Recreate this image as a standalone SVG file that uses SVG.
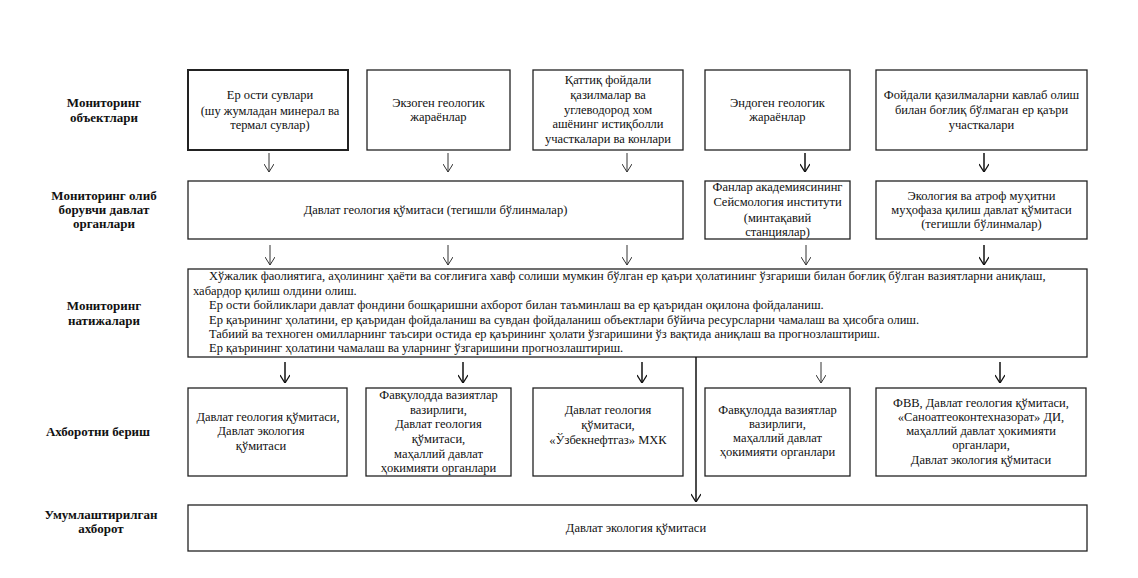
<svg xmlns="http://www.w3.org/2000/svg" width="1138" height="578" viewBox="0 0 1138 578" font-family="'Liberation Serif', 'Times New Roman', serif">
<style>
  text { font-family: 'Liberation Serif', 'Times New Roman', serif; font-size: 12.5px; fill: #111; }
  .lbl { font-weight: bold; text-anchor: middle; font-size: 13px; }
  .c { text-anchor: middle; }
  .box { fill: #fff; stroke: #222; stroke-width: 1.3; }
  .thick { stroke-width: 2; }
  .arr { stroke: #333; stroke-width: 1; fill: none; }
  .arr2 { stroke: #111; stroke-width: 1.5; fill: none; }
</style>
<defs>
  <marker id="ah" viewBox="0 0 10 10" refX="10" refY="5" markerWidth="10" markerHeight="10" markerUnits="userSpaceOnUse" orient="auto">
    <path d="M2,0 L10,5 L2,10" fill="none" stroke="#333" stroke-width="1"/>
  </marker>
  <marker id="ah2" viewBox="0 0 10 10" refX="10" refY="5" markerWidth="10" markerHeight="10" markerUnits="userSpaceOnUse" orient="auto">
    <path d="M2,0 L10,5 L2,10" fill="none" stroke="#111" stroke-width="1.3"/>
  </marker>
</defs>
<rect width="1138" height="578" fill="#fff"/>

<g id="labels">
  <text class="lbl" x="104" y="107">Мониторинг</text>
  <text class="lbl" x="104" y="122">объектлари</text>
  <text class="lbl" x="104" y="200">Мониторинг олиб</text>
  <text class="lbl" x="104" y="214">борувчи давлат</text>
  <text class="lbl" x="104" y="228">органлари</text>
  <text class="lbl" x="104" y="310">Мониторинг</text>
  <text class="lbl" x="104" y="325">натижалари</text>
  <text class="lbl" x="98" y="436">Ахборотни бериш</text>
  <text class="lbl" x="101" y="519">Умумлаштирилган</text>
  <text class="lbl" x="101" y="533">ахборот</text>
</g>

<g id="obj1">
  <rect class="box thick" x="188" y="70" width="160" height="80"/>
  <text class="c" x="270" y="99">Ер ости сувлари</text>
  <text class="c" x="270" y="115">(шу жумладан минерал ва</text>
  <text class="c" x="270" y="129">термал сувлар)</text>
</g>
<g id="obj2">
  <rect class="box" x="367" y="70" width="143" height="80"/>
  <text class="c" x="438.5" y="107">Экзоген геологик</text>
  <text class="c" x="438.5" y="121">жараёнлар</text>
</g>
<g id="obj3">
  <rect class="box" x="533" y="70" width="150" height="80"/>
  <text class="c" x="608" y="84">Қаттиқ фойдали</text>
  <text class="c" x="608" y="99">қазилмалар ва</text>
  <text class="c" x="608" y="114">углеводород хом</text>
  <text class="c" x="608" y="128">ашёнинг истиқболли</text>
  <text class="c" x="608" y="143">участкалари ва конлари</text>
</g>
<g id="obj4">
  <rect class="box" x="705" y="70" width="145" height="80"/>
  <text class="c" x="777.5" y="107">Эндоген геологик</text>
  <text class="c" x="777.5" y="121">жараёнлар</text>
</g>
<g id="obj5">
  <rect class="box" x="876" y="70" width="211" height="80"/>
  <text class="c" x="981.5" y="99">Фойдали қазилмаларни кавлаб олиш</text>
  <text class="c" x="981.5" y="114">билан боғлиқ бўлмаган ер қаъри</text>
  <text class="c" x="981.5" y="129">участкалари</text>
</g>

<g id="org1">
  <rect class="box" x="188" y="181" width="495" height="58"/>
  <text class="c" x="435.5" y="214">Давлат геология қўмитаси (тегишли бўлинмалар)</text>
</g>
<g id="org2">
  <rect class="box" x="705" y="181" width="145" height="58"/>
  <text class="c" x="777.5" y="191">Фанлар академиясининг</text>
  <text class="c" x="777.5" y="206">Сейсмология институти</text>
  <text class="c" x="777.5" y="222">(минтақавий</text>
  <text class="c" x="777.5" y="236">станциялар)</text>
</g>
<g id="org3">
  <rect class="box" x="876" y="181" width="211" height="58"/>
  <text class="c" x="981.5" y="200">Экология ва атроф муҳитни</text>
  <text class="c" x="981.5" y="214">муҳофаза қилиш давлат қўмитаси</text>
  <text class="c" x="981.5" y="228">(тегишли бўлинмалар)</text>
</g>

<g id="results">
  <rect class="box" x="188" y="269" width="899" height="88"/>
  <text x="209" y="280">Хўжалик фаолиятига, аҳолининг ҳаёти ва соғлиғига хавф солиши мумкин бўлган ер қаъри ҳолатининг ўзгариши билан боғлиқ бўлган вазиятларни аниқлаш,</text>
  <text x="193" y="294.5">хабардор қилиш олдини олиш.</text>
  <text x="209" y="309">Ер ости бойликлари давлат фондини бошқаришни ахборот билан таъминлаш ва ер қаъридан оқилона фойдаланиш.</text>
  <text x="209" y="323.5">Ер қаърининг ҳолатини, ер қаъридан фойдаланиш ва сувдан фойдаланиш объектлари бўйича ресурсларни чамалаш ва ҳисобга олиш.</text>
  <text x="209" y="338">Табиий ва техноген омилларнинг таъсири остида ер қаърининг ҳолати ўзгаришини ўз вақтида аниқлаш ва прогнозлаштириш.</text>
  <text x="209" y="352">Ер қаърининг ҳолатини чамалаш ва уларнинг ўзгаришини прогнозлаштириш.</text>
</g>

<g id="info1">
  <rect class="box" x="188" y="388" width="159" height="88"/>
  <text class="c" x="268" y="421">Давлат геология қўмитаси,</text>
  <text class="c" x="261" y="435">Давлат экология</text>
  <text class="c" x="261" y="450">қўмитаси</text>
</g>
<g id="info2">
  <rect class="box" x="366" y="388" width="145" height="88"/>
  <text class="c" x="438.5" y="399">Фавқулодда вазиятлар</text>
  <text class="c" x="438.5" y="414">вазирлиги,</text>
  <text class="c" x="438.5" y="428">Давлат геология</text>
  <text class="c" x="438.5" y="443">қўмитаси,</text>
  <text class="c" x="438.5" y="458">маҳаллий давлат</text>
  <text class="c" x="438.5" y="472">ҳокимияти органлари</text>
</g>
<g id="info3">
  <rect class="box" x="533" y="388" width="150" height="88"/>
  <text class="c" x="608" y="414">Давлат геология</text>
  <text class="c" x="608" y="429">қўмитаси,</text>
  <text class="c" x="608" y="444">«Ўзбекнефтгаз» МХК</text>
</g>
<g id="info4">
  <rect class="box" x="705" y="388" width="145" height="88"/>
  <text class="c" x="777.5" y="414">Фавқулодда вазиятлар</text>
  <text class="c" x="777.5" y="428">вазирлиги,</text>
  <text class="c" x="777.5" y="442">маҳаллий давлат</text>
  <text class="c" x="777.5" y="456">ҳокимияти органлари</text>
</g>
<g id="info5">
  <rect class="box" x="876" y="388" width="210" height="88"/>
  <text class="c" x="981" y="407">ФВВ, Давлат геология қўмитаси,</text>
  <text class="c" x="981" y="421">«Саноатгеоконтехназорат» ДИ,</text>
  <text class="c" x="981" y="435">маҳаллий давлат ҳокимияти</text>
  <text class="c" x="981" y="449">органлари,</text>
  <text class="c" x="981" y="464">Давлат экология қўмитаси</text>
</g>

<g id="summary">
  <rect class="box" x="188" y="505" width="899" height="46"/>
  <text class="c" x="636" y="532">Давлат экология қўмитаси</text>
</g>

<g id="connectors">
  <line class="arr" x1="269" y1="153" x2="269" y2="172" marker-end="url(#ah)"/>
  <line class="arr" x1="448" y1="153" x2="448" y2="172" marker-end="url(#ah)"/>
  <line class="arr" x1="627" y1="153" x2="627" y2="172" marker-end="url(#ah)"/>
  <line class="arr2" x1="805" y1="153" x2="805" y2="172" marker-end="url(#ah2)"/>
  <line class="arr2" x1="984" y1="153" x2="984" y2="172" marker-end="url(#ah2)"/>

  <line class="arr" x1="270" y1="245" x2="270" y2="265" marker-end="url(#ah)"/>
  <line class="arr" x1="448" y1="245" x2="448" y2="265" marker-end="url(#ah)"/>
  <line class="arr" x1="627" y1="245" x2="627" y2="265" marker-end="url(#ah)"/>
  <line class="arr" x1="806" y1="245" x2="806" y2="265" marker-end="url(#ah)"/>
  <line class="arr2" x1="984" y1="245" x2="984" y2="265" marker-end="url(#ah2)"/>

  <line class="arr2" x1="285" y1="362" x2="285" y2="383" marker-end="url(#ah2)"/>
  <line class="arr2" x1="463" y1="362" x2="463" y2="383" marker-end="url(#ah2)"/>
  <line class="arr2" x1="642" y1="362" x2="642" y2="383" marker-end="url(#ah2)"/>
  <line class="arr" x1="821" y1="362" x2="821" y2="383" marker-end="url(#ah)"/>
  <line class="arr2" x1="1000" y1="362" x2="1000" y2="383" marker-end="url(#ah2)"/>

  <line class="arr2" x1="696" y1="357" x2="696" y2="502" marker-end="url(#ah2)"/>
</g>
</svg>
